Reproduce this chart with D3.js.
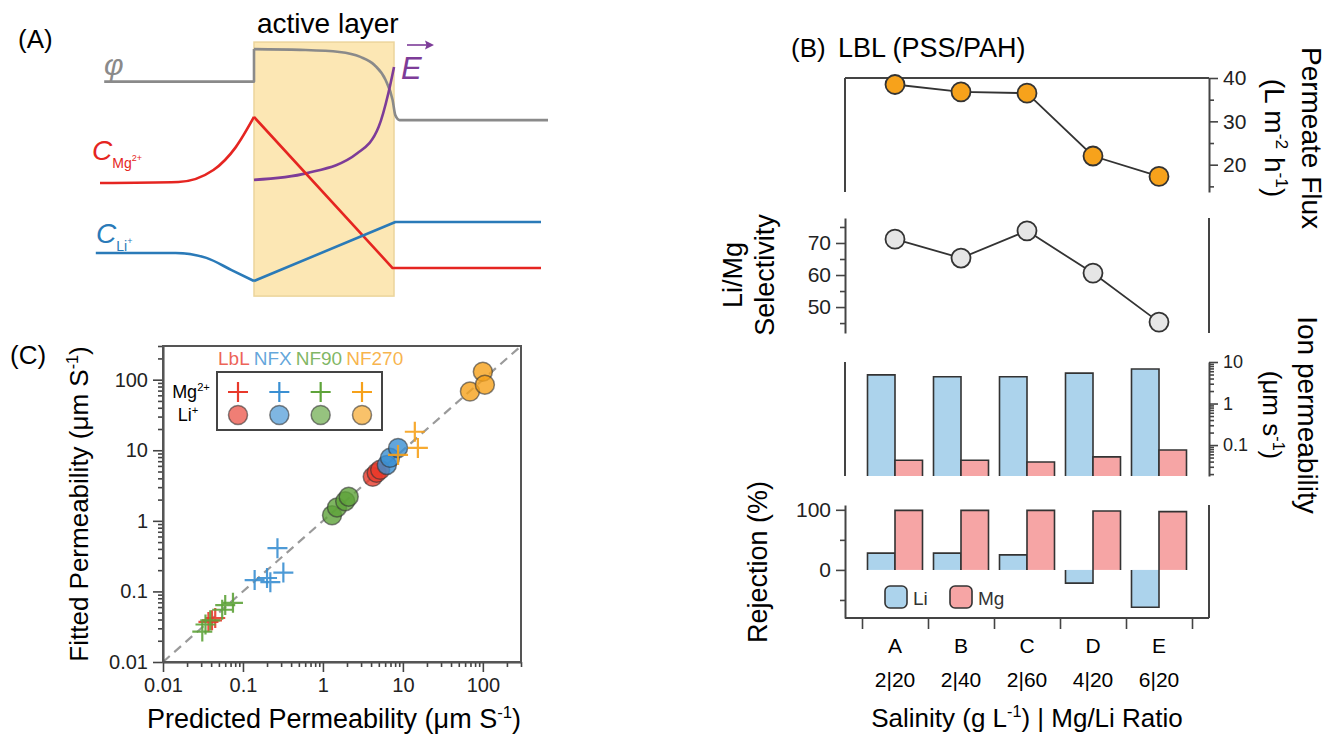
<!DOCTYPE html>
<html lang="en">
<head>
<meta charset="utf-8">
<title>Li/Mg separation figure</title>
<script src="https://d3js.org/d3.v7.min.js"></script>
<style>
  body { margin: 0; background: #fff; }
  svg text { font-family: "Liberation Sans", Arial, Helvetica, sans-serif; }
</style>
</head>
<body>
<div id="figure"></div>
<script>
// ---------- data ----------
// panel B
const categories = ["A", "B", "C", "D", "E"];
const ratioLabels = ["2|20", "2|40", "2|60", "4|20", "6|20"];
const fluxValues = [38.5, 36.8, 36.5, 22.0, 17.3];
const selectivityValues = [71.2, 65.3, 73.8, 60.6, 45.3];
const liPermeability = [4.9, 4.4, 4.4, 5.4, 6.8];
const mgPermeability = [0.043, 0.043, 0.039, 0.052, 0.076];
const liRejection = [28, 28, 25, -22, -62];
const mgRejection = [99, 99, 99, 98, 97];

const fluxTicks = [20, 30, 40], fluxMinor = [15, 25, 35];
const selTicks = [50, 60, 70], selMinor = [45, 55, 65, 75];
const ionTicks = [0.1, 1, 10];
const rejTicks = [0, 100], rejMinor = [-50, 50];

// panel C : [predicted, fitted]
const membranes = ["LbL", "NFX", "NF90", "NF270"];
const mgPoints = {
  LbL: [[0.037, 0.037], [0.041, 0.039], [0.045, 0.042]],
  NFX: [[0.14, 0.145], [0.2, 0.155], [0.22, 0.135], [0.32, 0.185], [0.27, 0.41]],
  NF90: [[0.031, 0.027], [0.034, 0.034], [0.039, 0.039], [0.055, 0.055], [0.06, 0.064], [0.075, 0.069]],
  NF270: [[14.1, 18.3], [15.4, 10.8], [8.7, 8.6]]
};
const liPoints = {
  LbL: [[4.2, 4.2], [4.7, 4.8], [5.2, 5.3]],
  NFX: [[6.3, 6.2], [6.9, 7.8], [8.7, 10.8]],
  NF90: [[1.3, 1.2], [1.5, 1.55], [1.9, 1.9], [2.1, 2.2]],
  NF270: [[69, 68], [100, 130], [106, 85]]
};
const cDecades = [0.01, 0.1, 1, 10, 100];

// panel A schematic profiles, x: position (active layer 0..1), y: arbitrary level 0..10
const phiStep = [[-1.07, 8.4], [0, 8.4], [0, 9.65]];
const phiCurve = [[0, 9.65], [0.33, 9.62], [0.61, 9.54], [0.76, 9.35], [0.86, 9.04], [0.94, 8.46],
                  [0.99, 7.69], [1.01, 7.1], [1.04, 6.92], [2.1, 6.92]];
const fieldCurve = [[0, 4.62], [0.38, 4.88], [0.74, 5.65], [0.89, 6.65], [0.96, 7.96], [1.0, 8.96]];
const mgFeed = [[-1.1, 4.5], [-0.54, 4.54], [-0.29, 5.0], [-0.13, 5.88], [0, 7.04]];
const mgLayer = [[0, 7.04], [0.99, 1.23], [2.05, 1.23]];
const liFeed = [[-1.13, 1.81], [-0.56, 1.81], [-0.34, 1.62], [-0.16, 1.15], [0, 0.73]];
const liLayer = [[0, 0.73], [1.01, 3.0], [2.05, 3.0]];

// ---------- setup ----------
const INK = "#444";
const svg = d3.select("#figure").append("svg").attr("width", 1330).attr("height", 735);

// text with super/subscript parts: [text, kind]
function richText(sel, parts, size) {
  let shift = 0;
  parts.forEach(([t, kind]) => {
    const target = kind === "sup" ? -0.38 * size : kind === "sub" ? 0.32 * size : 0;
    sel.append("tspan")
      .attr("dy", target - shift)
      .attr("font-size", kind ? size * 0.62 : size)
      .text(t);
    shift = target;
  });
  return sel;
}

function styleAxis(g, size) {
  g.attr("font-family", '"Liberation Sans", Arial, sans-serif').attr("font-size", size);
  g.select(".domain").attr("stroke", INK).attr("stroke-width", 2);
  g.selectAll(".tick line").attr("stroke", INK).attr("stroke-width", 1.6);
  g.selectAll(".tick text").attr("fill", "#222");
}

// ---------- panel A ----------
const xA = d3.scaleLinear().domain([0, 1]).range([254, 394]);
const yA = d3.scaleLinear().domain([0, 10]).range([300, 40]);
const lineA = d3.line().x(d => xA(d[0])).y(d => yA(d[1]));
const smoothA = d3.line().x(d => xA(d[0])).y(d => yA(d[1])).curve(d3.curveMonotoneX);

svg.append("rect")
  .attr("x", xA(0)).attr("y", yA(9.92))
  .attr("width", xA(1) - xA(0)).attr("height", yA(0.15) - yA(9.92))
  .attr("fill", "#fce7b4").attr("stroke", "#ecd59c").attr("stroke-width", 1.5);

const profiles = [
  {d: phiStep, f: lineA, c: "#8a8a8a"},
  {d: phiCurve, f: smoothA, c: "#8a8a8a"},
  {d: fieldCurve, f: smoothA, c: "#7d3c98"},
  {d: mgFeed, f: smoothA, c: "#e52521"},
  {d: mgLayer, f: lineA, c: "#e52521"},
  {d: liFeed, f: smoothA, c: "#2a7ab8"},
  {d: liLayer, f: lineA, c: "#2a7ab8"}
];
profiles.forEach(p => {
  svg.append("path").attr("d", p.f(p.d)).attr("fill", "none")
    .attr("stroke", p.c).attr("stroke-width", 2.6).attr("stroke-linejoin", "round");
});

svg.append("text").attr("x", 18).attr("y", 48).attr("font-size", 26).text("(A)");
svg.append("text").attr("x", 257).attr("y", 33).attr("font-size", 28).text("active layer");
svg.append("text").attr("x", 104).attr("y", 75).attr("font-size", 30)
  .attr("font-style", "italic").attr("fill", "#8a8a8a").text("φ");
svg.append("text").attr("x", 401).attr("y", 79).attr("font-size", 31)
  .attr("font-style", "italic").attr("fill", "#7d3c98").text("E");
svg.append("path").attr("d", "M407,45H427").attr("stroke", "#7d3c98").attr("stroke-width", 1.6);
svg.append("path").attr("d", "M434,45L425,40.5L426.5,45L425,49.5Z").attr("fill", "#7d3c98");

richText(svg.append("text").attr("x", 92).attr("y", 160).attr("fill", "#e52521")
  .attr("font-style", "italic"), [["C", ""]], 28)
  .append("tspan").attr("font-style", "normal").attr("dy", 8).attr("font-size", 14).text("Mg")
  .select(function () { return this.parentNode; })
  .append("tspan").attr("font-style", "normal").attr("dy", -7).attr("font-size", 9).text("2+");
richText(svg.append("text").attr("x", 96).attr("y", 243).attr("fill", "#2a7ab8")
  .attr("font-style", "italic"), [["C", ""]], 28)
  .append("tspan").attr("font-style", "normal").attr("dy", 8).attr("font-size", 14).text("Li")
  .select(function () { return this.parentNode; })
  .append("tspan").attr("font-style", "normal").attr("dy", -7).attr("font-size", 9).text("+");

// ---------- panel C ----------
const xC = d3.scaleLog().domain([0.01, 300]).range([163, 521]);
const yC = d3.scaleLog().domain([0.01, 300]).range([662, 346]);
const minorC = [];
cDecades.forEach(d => d3.range(2, 10).forEach(k => { if (k * d <= 300) minorC.push(k * d); }));
const fmtC = d => String(d);
const memColor = {LbL: "#e8392b", NFX: "#3a8fd2", NF90: "#5ea33a", NF270: "#f6a11a"};

svg.append("line")
  .attr("x1", xC(0.01)).attr("y1", yC(0.01)).attr("x2", xC(300)).attr("y2", yC(300))
  .attr("stroke", "#9a9a9a").attr("stroke-width", 2.2).attr("stroke-dasharray", "9,6");

const gxC = svg.append("g").attr("transform", `translate(0,${yC(0.01)})`)
  .call(d3.axisBottom(xC).tickValues(cDecades).tickFormat(fmtC).tickSize(10).tickSizeOuter(0).tickPadding(6));
styleAxis(gxC, 20);
const gxCm = svg.append("g").attr("transform", `translate(0,${yC(0.01)})`)
  .call(d3.axisBottom(xC).tickValues(minorC).tickFormat("").tickSize(5));
styleAxis(gxCm, 20); gxCm.select(".domain").remove();
const gyC = svg.append("g").attr("transform", `translate(${xC(0.01)},0)`)
  .call(d3.axisLeft(yC).tickValues(cDecades).tickFormat(fmtC).tickSize(10).tickSizeOuter(0).tickPadding(5));
styleAxis(gyC, 20);
const gyCm = svg.append("g").attr("transform", `translate(${xC(0.01)},0)`)
  .call(d3.axisLeft(yC).tickValues(minorC).tickFormat("").tickSize(5));
styleAxis(gyCm, 20); gyCm.select(".domain").remove();

svg.append("rect").attr("x", xC(0.01)).attr("y", yC(300))
  .attr("width", xC(300) - xC(0.01)).attr("height", yC(0.01) - yC(300))
  .attr("fill", "none").attr("stroke", "#555").attr("stroke-width", 2);

const crossPath = "M-10,0H10M0,-10V10";
membranes.forEach(m => {
  svg.selectAll(null).data(liPoints[m]).join("circle")
    .attr("cx", d => xC(d[0])).attr("cy", d => yC(d[1])).attr("r", 9.5)
    .attr("fill", memColor[m]).attr("fill-opacity", 0.8)
    .attr("stroke", "#333").attr("stroke-opacity", 0.6).attr("stroke-width", 1.5);
});
membranes.forEach(m => {
  svg.selectAll(null).data(mgPoints[m]).join("path")
    .attr("transform", d => `translate(${xC(d[0])},${yC(d[1])})`)
    .attr("d", crossPath).attr("fill", "none")
    .attr("stroke", memColor[m]).attr("stroke-width", 2.2).attr("stroke-opacity", 0.9);
});

// legend
const legX = d3.scalePoint().domain(membranes).range([238, 362]);
svg.append("rect").attr("x", 217).attr("y", 372).attr("width", 165).attr("height", 58)
  .attr("fill", "#fff").attr("stroke", INK).attr("stroke-width", 2);
let hx = 218;
membranes.forEach(m => {
  const t = svg.append("text").attr("x", hx).attr("y", 365).attr("font-size", 19)
    .attr("fill", memColor[m]).attr("fill-opacity", 0.8).text(m);
  hx += t.node().getComputedTextLength() + 4;
  svg.append("path").attr("transform", `translate(${legX(m)},392)`).attr("d", crossPath)
    .attr("fill", "none").attr("stroke", memColor[m]).attr("stroke-width", 2.2);
  svg.append("circle").attr("cx", legX(m)).attr("cy", 415).attr("r", 9.5)
    .attr("fill", memColor[m]).attr("fill-opacity", 0.65)
    .attr("stroke", "#333").attr("stroke-opacity", 0.6).attr("stroke-width", 1.5);
});
richText(svg.append("text").attr("x", 191).attr("y", 398).attr("text-anchor", "middle"),
  [["Mg", ""], ["2+", "sup"]], 18);
richText(svg.append("text").attr("x", 188).attr("y", 421).attr("text-anchor", "middle"),
  [["Li", ""], ["+", "sup"]], 18);

svg.append("text").attr("x", 10).attr("y", 364).attr("font-size", 26).text("(C)");
richText(svg.append("text").attr("text-anchor", "middle")
  .attr("transform", "translate(88,504) rotate(-90)"),
  [["Fitted Permeability (μm S", ""], ["-1", "sup"], [")", ""]], 26);
richText(svg.append("text").attr("text-anchor", "middle").attr("x", 334).attr("y", 728),
  [["Predicted Permeability (μm S", ""], ["-1", "sup"], [")", ""]], 27);

// ---------- panel B ----------
const bL = 845, bR = 1209;
const xB = d3.scaleBand().domain(categories).range([862, 1192]).paddingInner(1 / 6).paddingOuter(1 / 12);
const xEdge = d3.scaleLinear().domain([0, categories.length]).range([862, 1192]);
const xIon = d3.scaleBand().domain(["Li", "Mg"]).range([0, xB.bandwidth()]);
const cx = c => xB(c) + xB.bandwidth() / 2;
const ionColor = {Li: "#acd3ec", Mg: "#f6a5a5"};

const yFlux = d3.scaleLinear().domain([13.7, 40]).range([192, 78]);
const ySel = d3.scaleLinear().domain([41.9, 77.8]).range([333, 218]);
const yIon = d3.scaleLog().domain([0.018, 10]).range([476, 362]);
const yRej = d3.scaleLinear().domain([-80, 108]).range([618, 505]);

function spine(x1, y1, x2, y2) {
  svg.append("line").attr("x1", x1).attr("y1", y1).attr("x2", x2).attr("y2", y2)
    .attr("stroke", INK).attr("stroke-width", 2);
}
function axisPair(axisFn, scale, x, major, minor, size, fmt) {
  const g = svg.append("g").attr("transform", `translate(${x},0)`)
    .call(axisFn(scale).tickValues(major).tickFormat(fmt || (d => String(d)))
      .tickSize(9).tickSizeOuter(0).tickPadding(5));
  styleAxis(g, size);
  const gm = svg.append("g").attr("transform", `translate(${x},0)`)
    .call(axisFn(scale).tickValues(minor).tickFormat("").tickSize(5));
  styleAxis(gm, size); gm.select(".domain").remove();
}

// flux
spine(bL, yFlux(40), bR, yFlux(40));
spine(bL, yFlux(40), bL, yFlux.range()[0]);
axisPair(d3.axisRight, yFlux, bR, fluxTicks, fluxMinor, 21);
// selectivity
axisPair(d3.axisLeft, ySel, bL, selTicks, selMinor, 21);
spine(bR, ySel.range()[1], bR, ySel.range()[0]);
// ion permeability
const ionMinor = [];
[0.01, 0.1, 1].forEach(d => d3.range(2, 10).forEach(k => { if (k * d >= 0.018) ionMinor.push(k * d); }));
spine(bL, yIon.range()[1], bL, yIon.range()[0]);
axisPair(d3.axisRight, yIon, bR, ionTicks, ionMinor, 18);
// rejection
axisPair(d3.axisLeft, yRej, bL, rejTicks, rejMinor, 21);
spine(bR, yRej.range()[1], bR, yRej.range()[0]);
spine(bL, yRej.range()[0], bR, yRej.range()[0]);
const gxB = svg.append("g").attr("transform", `translate(0,${yRej.range()[0]})`)
  .call(d3.axisBottom(xEdge).tickValues(d3.range(categories.length + 1)).tickFormat("").tickSize(11));
styleAxis(gxB, 20); gxB.select(".domain").remove();

// bars
function bars(values, ion, yScale, base) {
  categories.forEach((c, i) => {
    const x0 = xB(c) + xIon(ion), w = xIon.bandwidth();
    const yb = yScale(base), yv = yScale(values[i]);
    svg.append("rect").attr("x", x0).attr("y", Math.min(yb, yv))
      .attr("width", w).attr("height", Math.abs(yb - yv)).attr("fill", ionColor[ion]);
    svg.append("path").attr("d", `M${x0},${yb}V${yv}H${x0 + w}V${yb}`)
      .attr("fill", "none").attr("stroke", "#333").attr("stroke-width", 1.6);
  });
}
bars(liPermeability, "Li", yIon, 0.018);
bars(mgPermeability, "Mg", yIon, 0.018);
bars(liRejection, "Li", yRej, 0);
bars(mgRejection, "Mg", yRej, 0);

// lines + markers
function series(values, yScale, fill) {
  svg.append("path").datum(values)
    .attr("d", d3.line().x((d, i) => cx(categories[i])).y(d => yScale(d)))
    .attr("fill", "none").attr("stroke", "#333").attr("stroke-width", 1.8);
  svg.selectAll(null).data(values).join("circle")
    .attr("cx", (d, i) => cx(categories[i])).attr("cy", d => yScale(d)).attr("r", 9.5)
    .attr("fill", fill).attr("stroke", "#333").attr("stroke-width", 1.8);
}
series(fluxValues, yFlux, "#f7a21b");
series(selectivityValues, ySel, "#e6e6e6");

// rejection legend
[["Li", 885], ["Mg", 950]].forEach(([ion, lx]) => {
  svg.append("rect").attr("x", lx).attr("y", 586).attr("width", 22).attr("height", 22).attr("rx", 5)
    .attr("fill", ionColor[ion]).attr("stroke", "#333").attr("stroke-width", 1.6);
  svg.append("text").attr("x", lx + 28).attr("y", 605).attr("font-size", 19).attr("fill", "#333").text(ion);
});

// category labels
svg.selectAll(null).data(categories).join("text")
  .attr("x", d => cx(d)).attr("y", 653).attr("text-anchor", "middle").attr("font-size", 21).text(d => d);
svg.selectAll(null).data(ratioLabels).join("text")
  .attr("x", (d, i) => cx(categories[i])).attr("y", 687).attr("text-anchor", "middle")
  .attr("font-size", 21).text(d => d);
richText(svg.append("text").attr("x", 1027).attr("y", 727).attr("text-anchor", "middle"),
  [["Salinity (g L", ""], ["-1", "sup"], [") | Mg/Li Ratio", ""]], 26);

svg.append("text").attr("x", 791).attr("y", 57).attr("font-size", 26).text("(B)");
svg.append("text").attr("x", 838).attr("y", 57).attr("font-size", 27).text("LBL (PSS/PAH)");

richText(svg.append("text").attr("text-anchor", "middle").attr("transform", "translate(1302,138) rotate(90)"),
  [["Permeate Flux", ""]], 28);
richText(svg.append("text").attr("text-anchor", "middle").attr("transform", "translate(1265,138) rotate(90)"),
  [["(L m", ""], ["-2", "sup"], [" h", ""], ["-1", "sup"], [")", ""]], 28);
richText(svg.append("text").attr("text-anchor", "middle").attr("transform", "translate(1298,415) rotate(90)"),
  [["Ion permeability", ""]], 28);
richText(svg.append("text").attr("text-anchor", "middle").attr("transform", "translate(1263,415) rotate(90)"),
  [["(μm s", ""], ["-1", "sup"], [")", ""]], 26);

richText(svg.append("text").attr("text-anchor", "middle").attr("transform", "translate(742,275) rotate(-90)"),
  [["Li/Mg", ""]], 27);
richText(svg.append("text").attr("text-anchor", "middle").attr("transform", "translate(774,275) rotate(-90)"),
  [["Selectivity", ""]], 27);
richText(svg.append("text").attr("text-anchor", "middle").attr("transform", "translate(767,562) rotate(-90)"),
  [["Rejection (%)", ""]], 27);
</script>
</body>
</html>
